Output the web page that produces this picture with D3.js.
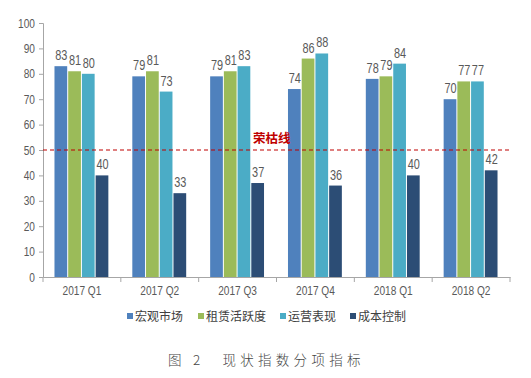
<!DOCTYPE html>
<html><head><meta charset="utf-8">
<script src="https://cdn.jsdelivr.net/npm/d3@7/dist/d3.min.js"></script>
<style>body{margin:0;background:#fff;}svg{display:block;}</style>
</head><body>
<svg id="c" width="531" height="378"></svg>
<script>
const categories = ["2017  Q1","2017  Q2","2017  Q3","2017  Q4","2018  Q1","2018  Q2"];
const seriesNames = ["宏观市场","租赁活跃度","运营表现","成本控制"];
const macro = [83,79,79,74,78,70];
const leasing = [81,81,81,86,79,77];
const operation = [80,73,83,88,84,77];
const cost = [40,33,37,36,40,42];
const yTicks = [0,10,20,30,40,50,60,70,80,90,100];
const thresholdValue = 50;
const thresholdLabel = "荣枯线";
const caption = "图 2　现状指数分项指标";

const colors = ["#4F81BD","#9BBB59","#4BACC6","#2C4D75"];
const series = [macro, leasing, operation, cost];
const svg = d3.select("#c");
const narrow = "'Liberation Sans',Arial,sans-serif";
const sx = 0.78;
const mLeft = 43, mRight = 510, mTop = 23, mBottom = 277;

const x = d3.scaleBand().domain(categories).range([mLeft, mRight]).paddingInner(0).paddingOuter(0);
const y = d3.scaleLinear().domain([0,100]).range([mBottom, mTop]);
const inner = d3.scaleBand().domain(d3.range(4)).range([0, x.bandwidth()*0.705]);
const off = (x.bandwidth() - x.bandwidth()*0.705)/2;

// y axis
const ya = svg.append("g").attr("transform",`translate(${mLeft},0)`)
  .call(d3.axisLeft(y).tickValues(yTicks).tickSize(4).tickPadding(3));
ya.select(".domain").attr("stroke","#A6A6A6");
ya.selectAll(".tick line").attr("stroke","#A6A6A6");
ya.selectAll("text").attr("fill","#595959").attr("x",-8/sx).attr("transform",`scale(${sx},1)`)
  .style("font-family",narrow).style("font-size","13px");

// x axis
const xa = svg.append("g").attr("transform",`translate(0,${mBottom})`)
  .call(d3.axisBottom(x).tickSize(0).tickPadding(9));
xa.select(".domain").attr("stroke","#A6A6A6");
xa.selectAll("text").attr("fill","#595959").attr("transform",`scale(${sx},1)`)
  .style("font-family",narrow).style("font-size","13px");
const bounds = categories.map(c=>x(c)).concat([mRight]);
svg.append("g").selectAll("line").data(bounds).join("line")
  .attr("x1",d=>d).attr("x2",d=>d).attr("y1",mBottom).attr("y2",mBottom+5).attr("stroke","#A6A6A6");

// bars
series.forEach((s,i)=>{
  const g = svg.append("g");
  g.selectAll("rect").data(s).join("rect")
    .attr("x",(d,j)=>x(categories[j])+off+inner(i))
    .attr("y",d=>y(d))
    .attr("width",inner.bandwidth()-1)
    .attr("height",d=>mBottom-y(d))
    .attr("fill",colors[i]);
  g.selectAll("text").data(s).join("text")
    .attr("transform",(d,j)=>`translate(${x(categories[j])+off+inner(i)+inner.bandwidth()/2},${y(d)-6}) scale(${sx},1)`)
    .attr("text-anchor","middle")
    .attr("fill","#595959")
    .style("font-family",narrow).style("font-size","14px")
    .text(d=>d);
});

// threshold line
svg.append("line").attr("x1",mLeft).attr("x2",mRight).attr("y1",y(thresholdValue)).attr("y2",y(thresholdValue))
  .attr("stroke","#C00000").attr("stroke-width",1.2).attr("stroke-dasharray","4,3");
svg.append("text").attr("x",253).attr("y",y(thresholdValue)-7).attr("fill","#C00000")
  .style("font-family","'Noto Sans CJK SC',sans-serif").style("font-weight","bold").style("font-size","12.5px")
  .text(thresholdLabel);

// legend
const legX = [127,198,280,350];
const lg = svg.append("g");
seriesNames.forEach((n,i)=>{
  lg.append("rect").attr("x",legX[i]).attr("y",313).attr("width",6).attr("height",6).attr("fill",colors[i]);
  lg.append("text").attr("x",legX[i]+8).attr("y",321).attr("fill","#404040")
    .style("font-family","'Noto Sans CJK SC',sans-serif").style("font-size","12px").text(n);
});

// caption
svg.append("text").attr("x",168).attr("y",365).attr("fill","#444")
  .style("font-family","'Noto Sans CJK SC',sans-serif").style("font-size","13.5px").style("letter-spacing","4.3px")
  .style("font-weight","300").text(caption);
</script>
</body></html>
